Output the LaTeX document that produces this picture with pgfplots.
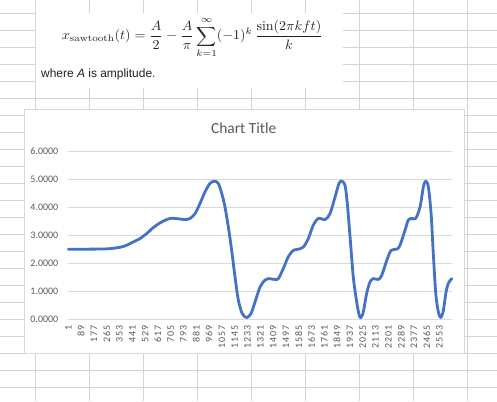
\documentclass[border=0pt]{standalone}
\usepackage{pgfplots}
\pgfplotsset{compat=1.18}
\usepackage{graphicx}
\usepackage{fontspec}
\newfontfamily\calibri{Carlito}
\newfontfamily\calibrisp[LetterSpace=8]{Carlito}
\newfontfamily\arial{Liberation Sans}
\definecolor{sheetgrid}{HTML}{D4D4D4}
\definecolor{chartborder}{HTML}{D9D9D9}
\definecolor{labelgray}{HTML}{595959}
\definecolor{series}{HTML}{4472C4}
\definecolor{wikitext}{HTML}{202122}

% sampled sum of the first sawtooth harmonics (row index, value)
\pgfplotstableread{
x     y
1     2.50
253   2.51
356   2.57
402   2.64
448   2.76
494   2.88
540   3.06
585   3.27
631   3.44
677   3.56
700   3.60
735   3.60
803   3.56
838   3.60
872   3.77
906   4.13
941   4.55
975   4.85
1005  4.93
1032  4.85
1056  4.49
1078  4.01
1101  3.30
1124  2.46
1147  1.51
1170  0.68
1197  0.20
1227  0.06
1257  0.20
1285  0.62
1319  1.15
1353  1.40
1376  1.45
1422  1.42
1445  1.45
1479  1.81
1513  2.23
1548  2.46
1582  2.50
1617  2.58
1651  2.88
1685  3.36
1720  3.60
1766  3.56
1800  3.77
1835  4.37
1862  4.85
1881  4.93
1903  4.79
1919  4.13
1938  2.94
1960  1.51
1984  0.60
2002  0.12
2013  0.06
2029  0.26
2052  0.92
2075  1.33
2098  1.45
2132  1.42
2156  1.57
2190  2.10
2220  2.46
2259  2.50
2281  2.64
2316  3.18
2338  3.54
2362  3.60
2389  3.60
2419  4.01
2442  4.73
2458  4.93
2476  4.73
2495  3.77
2510  2.35
2527  0.92
2545  0.26
2561  0.06
2579  0.30
2596  0.92
2613  1.28
2637  1.45
}\sawdata

\begin{document}
\begin{tikzpicture}
\begin{scope}[x=1bp,y=-1bp]
  \path[use as bounding box] (0,0) rectangle (497,401);
  \fill[white] (0,0) rectangle (497,401);
  % worksheet cell borders
  \foreach \gx in {35.7,89.3,143.3,197.3,251.3,305.3,359.3,413.3,467.7}
    \draw[sheetgrid,line width=1bp] (\gx,0) -- (\gx,401);
  \foreach \k in {0,...,22}
    \draw[sheetgrid,line width=1bp] (0,13.3+17*\k) -- (497,13.3+17*\k);
  % formula picture pasted over the cells
  \fill[white] (36.3,12.6) rectangle (343.3,88.3);
  \node[anchor=west,inner sep=0pt,text=wikitext] at (61.7,37.5)
    {\resizebox*{261bp}{40bp}{$\displaystyle x_{\mathrm{sawtooth}}(t) = \frac{A}{2} - \frac{A}{\pi}\sum_{k=1}^{\infty}(-1)^k\,\frac{\sin(2\pi k f t)}{k}$}};
  \node[anchor=base west,inner sep=0pt,text=wikitext,font=\arial\fontsize{12}{14}\selectfont]
    at (41,77.3) {where \textit{A} is amplitude.};
  % chart area
  \draw[chartborder,fill=white,line width=1bp] (24.3,109.3) rectangle (464.3,353.3);
  \node[text=labelgray,font=\calibri\fontsize{15.5}{18}\selectfont,inner sep=0pt]
    at (243.7,128.3) {Chart Title};
\end{scope}
\begin{axis}[
  at={(68.15bp,-319.2bp)}, anchor=south west,
  scale only axis, width=383.6bp, height=168bp,
  xmin=0, xmax=2637, ymin=0, ymax=6,
  clip=false,
  axis line style={draw=none},
  major tick length=0pt,
  ytick={0,1,...,6},
  ymajorgrids,
  grid style={draw=chartborder,line width=1bp},
  xtick={1,89,...,2553},
  scaled x ticks=false,
  /pgf/number format/assume math mode=true,
  yticklabel style={font=\calibri\fontsize{10}{12}\selectfont,text=labelgray,
    inner sep=0pt,anchor=east,
    /pgf/number format/.cd,fixed,fixed zerofill,precision=4},
  yticklabel shift=9.7bp,
  xticklabel style={font=\calibrisp\fontsize{10}{12}\selectfont,text=labelgray,
    inner sep=0pt,rotate=90,anchor=east,
    /pgf/number format/.cd,1000 sep={}},
  xticklabel shift=6bp,
]
\addplot[series,line width=2.8bp,smooth,tension=0.5,line cap=round,line join=round]
  table[x=x,y=y]{\sawdata};
\end{axis}
\end{tikzpicture}
\end{document}
